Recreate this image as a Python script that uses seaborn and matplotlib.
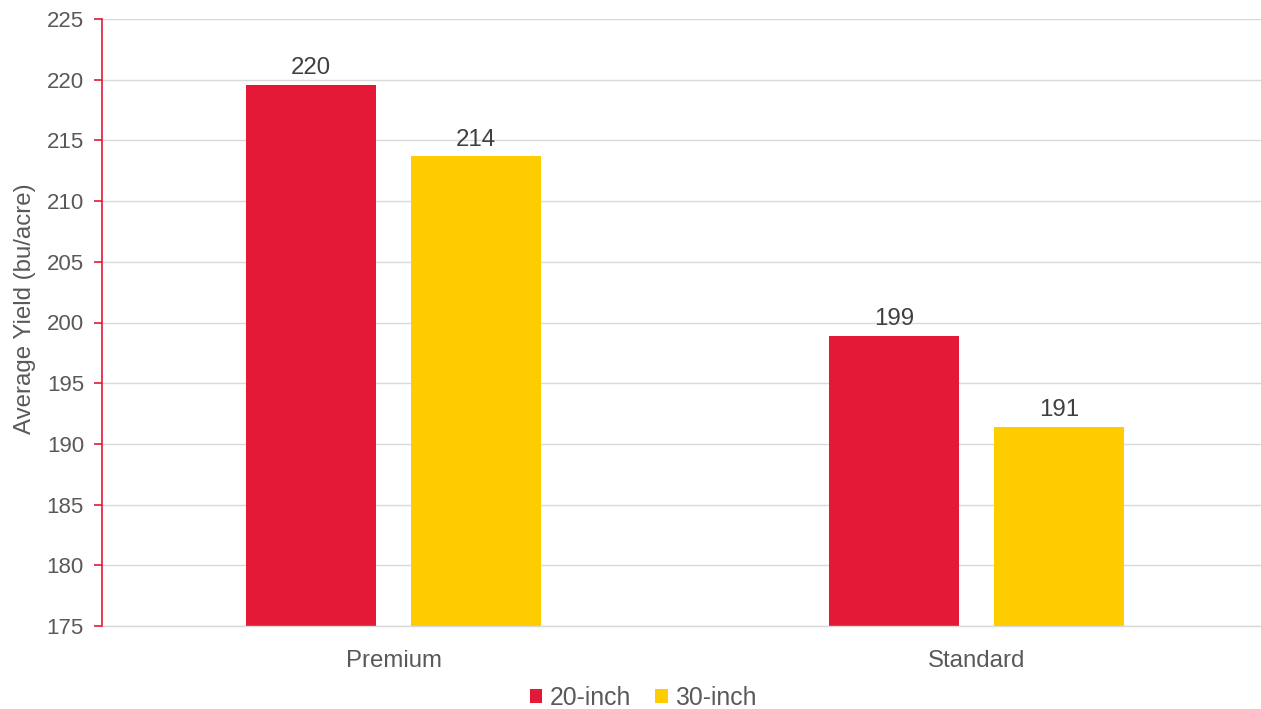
import matplotlib
matplotlib.use("Agg")
import matplotlib.pyplot as plt
import seaborn as sns
import pandas as pd
from matplotlib.patches import Patch

categories = ["Premium", "Standard"]
series = ["20-inch", "30-inch"]
values_20 = [219.6, 198.9]
values_30 = [213.7, 191.4]
labels_20 = ["220", "199"]
labels_30 = ["214", "191"]
yticks = [175, 180, 185, 190, 195, 200, 205, 210, 215, 220, 225]

colors = {"20-inch": "#E41937", "30-inch": "#FFCC00"}
RED = "#E41937"
TXT = "#595959"
FS = 17.3
FSY = 16

df = pd.DataFrame({
    "Category": categories * 2,
    "Series": [series[0]] * 2 + [series[1]] * 2,
    "Value": values_20 + values_30,
})

sns.set_theme(style="white")
plt.rcParams["font.family"] = ["Liberation Sans", "DejaVu Sans"]

fig = plt.figure(figsize=(12.61, 7.09), dpi=100)
ax = fig.add_axes([102 / 1261, 83 / 709, 1166 / 1261, 607 / 709])

sns.barplot(data=df, x="Category", y="Value", hue="Series", palette=colors,
            order=categories, hue_order=series, width=0.568, gap=0.216,
            saturation=1, ax=ax, legend=False, edgecolor="none", linewidth=0)

ax.set_ylim(175, 225)
ax.set_xlim(-0.5, 1.5)
ax.set_yticks(yticks)
ax.yaxis.grid(True, color="#d9d9d9", linewidth=1)
ax.set_axisbelow(True)
for s in ["top", "right"]:
    ax.spines[s].set_visible(False)
ax.spines["bottom"].set_color("#d9d9d9")
ax.spines["bottom"].set_linewidth(1)
ax.spines["left"].set_color(RED)
ax.spines["left"].set_linewidth(1.2)
ax.spines["left"].set_zorder(5)
ax.tick_params(axis="y", colors=TXT, labelsize=FSY, length=6, width=1.2,
               color=RED, left=True, direction="out", pad=7)
ax.tick_params(axis="x", colors=TXT, labelsize=FS, length=0, pad=17)
ax.set_xlabel("")
ax.set_ylabel("Average Yield (bu/acre)", fontsize=FS, color=TXT, labelpad=8)
ax.yaxis.label.set_y(0.522)

all_labels = [labels_20, labels_30]
for cont, labs in zip(ax.containers, all_labels):
    ax.bar_label(cont, labels=labs, padding=4, fontsize=FS, color="#404040")

handles = [Patch(facecolor=colors[s], edgecolor="none", label=s) for s in series]
fig.legend(handles=handles, loc="center", bbox_to_anchor=(643 / 1261, 0.016),
           ncol=2, frameon=False, fontsize=17.8, handlelength=0.52,
           handleheight=0.52, handletextpad=0.3, columnspacing=0.95,
           labelcolor=TXT, borderpad=0)

fig.savefig("out.png", dpi=100)
